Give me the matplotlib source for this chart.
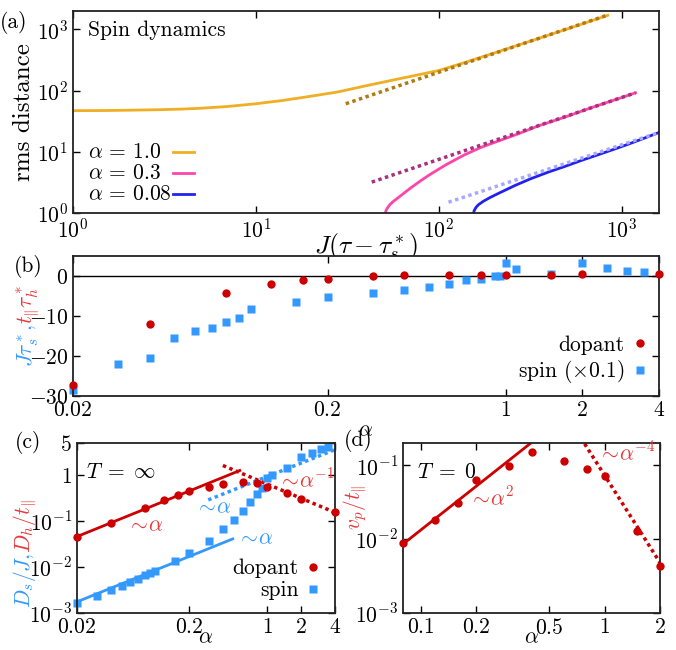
import matplotlib
matplotlib.use('Agg')
import matplotlib.pyplot as plt

plt.rcParams['font.family'] = 'serif'
plt.rcParams['font.serif'] = ['cmr10', 'DejaVu Serif']
plt.rcParams['mathtext.fontset'] = 'cm'
plt.rcParams['axes.formatter.use_mathtext'] = True
plt.rcParams['axes.unicode_minus'] = False
plt.rcParams['font.size'] = 15.5

# ---- panel (a): rms distance vs time ----
a_t1 = [1, 1.5, 2, 3, 4, 5, 7, 10, 14, 20, 28, 40, 60, 100, 140, 200, 300, 500, 840]
a_r1 = [47, 47.3, 47.8, 48.8, 50, 51.5, 55, 61, 69, 81, 95, 120, 155, 213, 290, 410, 610, 1010, 1700]
a_fit1_t = [31, 840]
a_fit1_r = [61, 1720]
a_t2 = [51, 51.5, 52.5, 54, 56, 60, 65, 70, 80, 90, 110, 138, 170, 209, 270, 350, 484, 700, 1000, 1190]
a_r2 = [1.0, 1.1, 1.22, 1.37, 1.52, 1.78, 2.15, 2.55, 3.4, 4.3, 6.2, 8.9, 11.8, 14.8, 19.5, 26.5, 36.5, 54, 77, 92]
a_fit2_t = [43, 1190]
a_fit2_r = [3.2, 92]
a_t3 = [155, 156, 158, 161, 165, 175, 190, 209, 260, 316, 400, 484, 600, 731, 900, 1100, 1350, 1600]
a_r3 = [1.0, 1.08, 1.17, 1.27, 1.37, 1.55, 1.78, 2.05, 2.8, 3.6, 4.7, 5.7, 7.2, 8.8, 10.9, 13.5, 17, 20.7]
a_fit3_t = [113, 1600]
a_fit3_r = [1.5, 20.7]
a_labels = [r'$\alpha\,=\,1.0$', r'$\alpha\,=\,0.3$', r'$\alpha\,=\,0.08$']

# ---- panel (b): tau* vs alpha ----
b_alpha_h = [0.02, 0.04, 0.08, 0.12, 0.16, 0.2, 0.3, 0.4, 0.6, 0.8, 1.0, 1.5, 2.0, 4.0]
b_tau_h = [-27.3, -12.0, -4.3, -2.0, -1.0, -0.7, 0.0, 0.2, 0.25, 0.25, 0.25, 0.3, 0.4, 0.4]
b_alpha_s = [0.02, 0.03, 0.04, 0.05, 0.06, 0.07, 0.08, 0.09, 0.1, 0.15, 0.2, 0.3, 0.4,
             0.5, 0.6, 0.7, 0.8, 0.91, 0.95, 1.0, 1.1, 1.5, 2.0, 2.5, 3.0, 3.5]
b_tau_s = [-28.5, -22.1, -20.6, -15.6, -13.7, -13.1, -11.6, -10.6, -8.3, -6.6, -5.3, -4.3, -3.6,
           -2.8, -1.9, -1.0, -0.7, 0.0, 0.0, 3.2, 1.7, 0.5, 3.2, 1.9, 1.3, 0.9]

# ---- panel (c): diffusion constants ----
c_alpha_h = [0.02, 0.04, 0.08, 0.12, 0.16, 0.2, 0.3, 0.4, 0.6, 0.8, 1.0, 1.5, 2.0, 4.0]
c_D_h = [0.044, 0.091, 0.194, 0.294, 0.37, 0.444, 0.56, 0.64, 0.706, 0.66, 0.56, 0.41, 0.31, 0.154]
c_alpha_s = [0.02, 0.03, 0.04, 0.05, 0.06, 0.07, 0.08, 0.09, 0.1, 0.15, 0.2, 0.3, 0.4,
             0.5, 0.6, 0.7, 0.8, 0.9, 1.0, 1.1, 1.5, 2.0, 2.5, 3.0, 3.5]
c_D_s = [0.00167, 0.00233, 0.0031, 0.0039, 0.0048, 0.0056, 0.0066, 0.0076, 0.0082, 0.0137,
         0.0204, 0.036, 0.067, 0.107, 0.167, 0.26, 0.383, 0.52, 0.88, 1.0, 1.44, 2.45, 3.1, 3.7, 4.1]
c_fit_h_a = [0.02, 0.566]
c_fit_h_D = [0.046, 1.26]
c_fit_h2_a = [0.4, 4.0]
c_fit_h2_D = [1.62, 0.154]
c_fit_s_a = [0.02, 0.49]
c_fit_s_D = [0.00175, 0.041]
c_fit_s2_a = [0.296, 4.0]
c_fit_s2_D = [0.289, 3.58]

# ---- panel (d): velocity at T=0 ----
d_alpha = [0.08, 0.12, 0.16, 0.2, 0.3, 0.4, 0.6, 0.8, 1.0, 1.5, 2.0]
d_v = [0.009, 0.018, 0.0311, 0.064, 0.099, 0.151, 0.113, 0.089, 0.0726, 0.0127, 0.0043]
d_fit1_a = [0.08, 0.392]
d_fit1_v = [0.00857, 0.195]
d_fit2_a = [0.778, 2.0]
d_fit2_v = [0.195, 0.0048]

RED = '#cc0000'
RED_TXT = '#e8383a'
BLUE = '#3399ff'
ORANGE = '#f0ae24'
PINK = '#ff44aa'
DBLUE = '#2222ee'
FRAME = '#222222'

W, H = 676, 650
fig = plt.figure(figsize=(W / 100, H / 100), dpi=100)


def box(l, t, r, b):
    return [l / W, 1 - b / H, (r - l) / W, (b - t) / H]


def style(ax):
    ax.tick_params(which='both', direction='in', top=True, right=True)
    ax.tick_params(which='major', length=5, width=1)
    ax.tick_params(which='minor', length=0)
    for s in ax.spines.values():
        s.set_linewidth(1.3)
        s.set_color(FRAME)


def ftext(x, y, s, **kw):
    return fig.text(x / W, 1 - y / H, s, **kw)


def two_color_ylabel(x, y, low, low_c, up, up_c):
    ftext(x, y, low, rotation=90, ha='center', va='top', color=low_c)
    ftext(x, y, up, rotation=90, ha='center', va='bottom', color=up_c)


dot = dict(linestyle=(0, (1, 1)), linewidth=2.5, dash_capstyle='butt')

# (a)
ax = fig.add_axes(box(73, 11, 659, 213))
ax.plot(a_t1, a_r1, color=ORANGE, lw=2)
ax.plot(a_fit1_t, a_fit1_r, color='#b07a12', **dot)
ax.plot(a_t2, a_r2, color=PINK, lw=2)
ax.plot(a_fit2_t, a_fit2_r, color='#a8307c', **dot)
ax.plot(a_t3, a_r3, color=DBLUE, lw=2)
ax.plot(a_fit3_t, a_fit3_r, color='#a8a8ff', **dot)
ax.set_xscale('log')
ax.set_yscale('log')
ax.set_xlim(1, 1600)
ax.set_ylim(1, 2000)
ax.set_xticks([1, 10, 100, 1000])
ax.set_yticks([1, 10, 100, 1000])
style(ax)
ax.set_ylabel('rms distance', fontsize=18, labelpad=1)
ax.set_xlabel(r'$J(\tau-\tau_s^*)$', fontsize=18.5, labelpad=-8)
ax.text(0.026, 0.906, 'Spin dynamics', transform=ax.transAxes, ha='left', va='center')
# legend: text left-aligned, short line keys in one column
for k, (lab, col) in enumerate(zip(a_labels, [ORANGE, PINK, DBLUE])):
    yk = (213 - (152 + 21 * k)) / 202
    ax.text(15 / 586, yk, lab, transform=ax.transAxes, ha='left', va='center')
    ax.plot([100 / 586, 121 / 586], [yk, yk], color=col, lw=2, transform=ax.transAxes)
ftext(14, 22, '(a)', ha='center', va='center')

# (b)
ax = fig.add_axes(box(73, 256, 659, 396))
ax.axhline(0, color='black', lw=1)
ax.plot(b_alpha_h, b_tau_h, 'o', color=RED, ms=6, mec='none', label='dopant', clip_on=False, zorder=3)
ax.plot(b_alpha_s, b_tau_s, 's', color=BLUE, ms=5.5, mec='none', label=r'spin ($\times0.1$)', clip_on=False)
ax.set_xscale('log')
ax.set_xlim(0.02, 4)
ax.set_ylim(-30, 5)
ax.set_xticks([0.02, 0.2, 1, 2, 4])
ax.set_xticklabels(['$0.02$', '$0.2$', '$1$', '$2$', '$4$'])
ax.set_yticks([-30, -20, -10, 0])
ax.set_yticklabels(['$-30$', '$-20$', '$-10$', '$0$'])
style(ax)
ax.set_xlabel(r'$\alpha$', labelpad=0)
ax.legend(loc='lower right', frameon=False, markerfirst=False, handlelength=0.8,
          handletextpad=0.3, labelspacing=0.15, borderaxespad=0.1)
two_color_ylabel(28, 324, r'$J\tau_s^*,$', BLUE, r'$t_\|\tau_h^*$', RED_TXT)
ftext(28, 266, '(b)', ha='center', va='center')

# (c)
ax = fig.add_axes(box(77, 443, 335, 613))
ax.plot(c_fit_h_a, c_fit_h_D, color=RED, lw=2)
ax.plot(c_fit_h2_a, c_fit_h2_D, color=RED, **dot)
ax.plot(c_fit_s_a, c_fit_s_D, color=BLUE, lw=2)
ax.plot(c_fit_s2_a, c_fit_s2_D, color=BLUE, **dot)
ax.plot(c_alpha_h, c_D_h, 'o', color=RED, ms=6, mec='none', label='dopant', clip_on=False, zorder=3)
ax.plot(c_alpha_s, c_D_s, 's', color=BLUE, ms=5.5, mec='none', label='spin', clip_on=False)
ax.set_xscale('log')
ax.set_yscale('log')
ax.set_xlim(0.02, 4)
ax.set_ylim(1e-3, 5)
ax.set_xticks([0.02, 0.2, 1, 2, 4])
ax.set_xticklabels(['$0.02$', '$0.2$', '$1$', '$2$', '$4$'])
ax.set_yticks([1e-3, 1e-2, 1e-1, 1, 5])
ax.set_yticklabels(['$10^{-3}$', '$10^{-2}$', '$10^{-1}$', '$1$', '$5$'])
style(ax)
ax.set_xlabel(r'$\alpha$', labelpad=-7)
ax.text(0.035, 0.83, r'$T\;=\;\infty$', transform=ax.transAxes, ha='left', va='center')
ax.legend(loc='lower right', frameon=False, markerfirst=False, handlelength=0.8,
          handletextpad=0.3, labelspacing=0.1, borderaxespad=0.2)
ftext(127, 525, r'$\sim\!\alpha$', color=RED_TXT, ha='left', va='center')
ftext(195, 507, r'$\sim\!\alpha$', color=BLUE, ha='left', va='center')
ftext(237, 538, r'$\sim\!\alpha$', color=BLUE, ha='left', va='center')
ftext(278, 480, r'$\sim\!\alpha^{-1}$', color=RED_TXT, ha='left', va='center')
two_color_ylabel(25, 553, r'$D_s/J,$', BLUE, r'$D_h/t_\|$', RED_TXT)
ftext(28, 443, '(c)', ha='center', va='center')

# (d)
ax = fig.add_axes(box(403, 443, 660, 613))
ax.plot(d_fit1_a, d_fit1_v, color=RED, lw=2)
ax.plot(d_fit2_a, d_fit2_v, color=RED, **dot)
ax.plot(d_alpha, d_v, 'o', color=RED, ms=6, mec='none', clip_on=False, zorder=3)
ax.set_xscale('log')
ax.set_yscale('log')
ax.set_xlim(0.08, 2)
ax.set_ylim(1e-3, 0.2)
ax.set_xticks([0.1, 0.2, 0.5, 1, 2])
ax.set_xticklabels(['$0.1$', '$0.2$', '$0.5$', '$1$', '$2$'])
ax.set_yticks([1e-3, 1e-2, 1e-1])
ax.set_yticklabels(['$10^{-3}$', '$10^{-2}$', '$10^{-1}$'])
style(ax)
ax.set_xlabel(r'$\alpha$', labelpad=-7)
ax.text(0.055, 0.83, r'$T\;=\;0$', transform=ax.transAxes, ha='left', va='center')
ftext(469, 498, r'$\sim\!\alpha^2$', color=RED_TXT, ha='left', va='center')
ftext(598, 453, r'$\sim\!\alpha^{-4}$', color=RED_TXT, ha='left', va='center')
ftext(355, 507, r'$v_p/t_\|$', color=RED_TXT, rotation=90, ha='center', va='center')
ftext(358, 440, '(d)', ha='center', va='center')

fig.savefig('out.png', dpi=100)
